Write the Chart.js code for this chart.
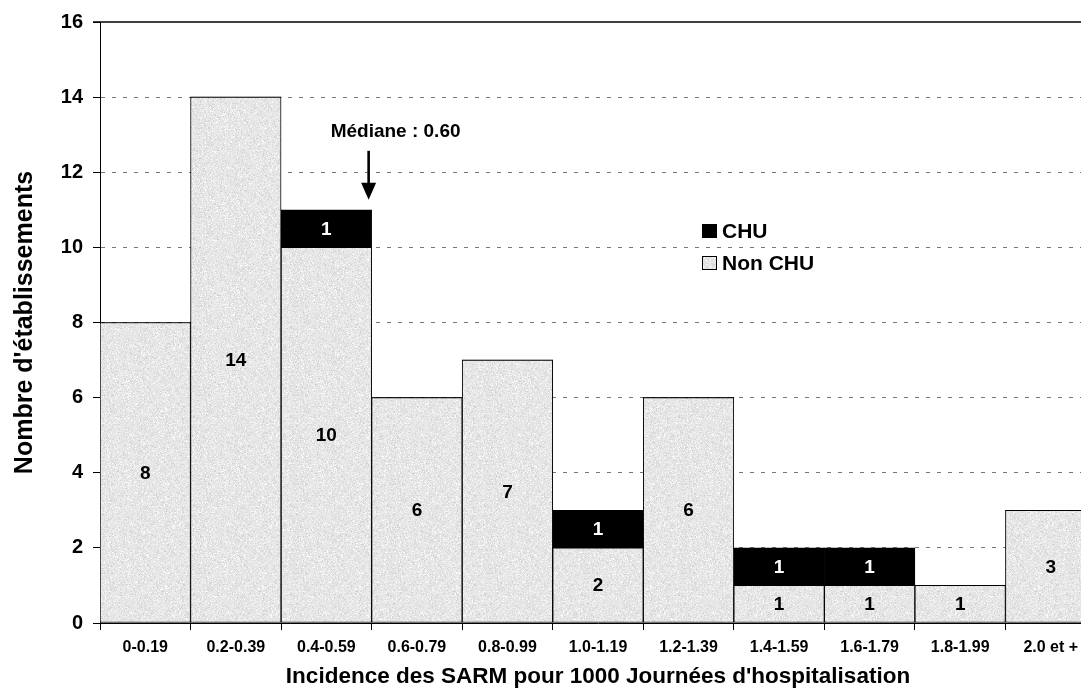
<!DOCTYPE html>
<html>
<head>
<meta charset="utf-8">
<script src="https://cdn.jsdelivr.net/npm/chart.js"></script>
<style>
  body { margin: 0; background: #fff; }
  #wrap { width: 1081px; height: 691px; overflow: hidden; }
  #inner { width: 1106px; height: 691px; }
</style>
</head>
<body>
<div id="wrap"><div id="inner"><canvas id="myChart"></canvas></div></div>
<script>
var categories = ["0-0.19", "0.2-0.39", "0.4-0.59", "0.6-0.79", "0.8-0.99", "1.0-1.19",
                  "1.2-1.39", "1.4-1.59", "1.6-1.79", "1.8-1.99", "2.0 et +"];
var nonChu = [8, 14, 10, 6, 7, 2, 6, 1, 1, 1, 3];
var chu = [0, 0, 1, 0, 0, 1, 0, 1, 1, 0, 0];
var yTicks = [0, 2, 4, 6, 8, 10, 12, 14, 16];
var medianLabel = "Médiane : 0.60";
var medianIndex = 2.5; // limite entre 0.4-0.59 et 0.6-0.79

var FONT = "'Liberation Sans', Arial, sans-serif";
var canvas = document.getElementById('myChart');
var ctx0 = canvas.getContext('2d');

// texture grise des barres "Non CHU" (bruit fixe, pas aléatoire)
function makeTexture() {
  var c = document.createElement('canvas');
  c.width = 97; c.height = 89;
  var g = c.getContext('2d');
  g.fillStyle = '#e6e6e6';
  g.fillRect(0, 0, 97, 89);
  var seed = 12345;
  function next() { seed = (seed * 16807) % 2147483647; return seed; }
  for (var i = 0; i < 6000; i++) {
    var x = next() % 97, y = next() % 89, v = 208 + next() % 46;
    g.fillStyle = 'rgb(' + v + ',' + v + ',' + v + ')';
    g.fillRect(x, y, 1, 1);
  }
  return ctx0.createPattern(c, 'repeat');
}
var texture = makeTexture();

// valeurs écrites dans les barres
var barLabels = {
  id: 'barLabels',
  afterDatasetsDraw: function(chart) {
    var ctx = chart.ctx;
    ctx.save();
    ctx.font = 'bold 19px ' + FONT;
    ctx.textAlign = 'center';
    ctx.textBaseline = 'middle';
    chart.data.datasets.forEach(function(ds, di) {
      var meta = chart.getDatasetMeta(di);
      meta.data.forEach(function(bar, i) {
        if (!ds.data[i]) return;
        ctx.fillStyle = di == 1 ? '#fff' : '#000';
        ctx.fillText(ds.data[i], bar.x, (bar.y + bar.base) / 2 + 1);
      });
    });
    ctx.restore();
  }
};

// ligne du haut, flèche de la médiane et légende
var extras = {
  id: 'extras',
  afterDraw: function(chart) {
    var ctx = chart.ctx;
    var xs = chart.scales.x, ys = chart.scales.y;
    var area = chart.chartArea;
    ctx.save();
    ctx.strokeStyle = '#000';
    ctx.lineWidth = 1.3;
    ctx.beginPath();
    ctx.moveTo(area.left - 7, ys.getPixelForValue(16));
    ctx.lineTo(area.right, ys.getPixelForValue(16));
    ctx.stroke();

    var mx = (xs.getPixelForValue(Math.floor(medianIndex)) + xs.getPixelForValue(Math.ceil(medianIndex))) / 2 - 3;
    var tip = ys.getPixelForValue(11.27);
    var top = ys.getPixelForValue(12.57);
    ctx.lineWidth = 2.6;
    ctx.beginPath();
    ctx.moveTo(mx, top);
    ctx.lineTo(mx, tip - 12);
    ctx.stroke();
    ctx.fillStyle = '#000';
    ctx.beginPath();
    ctx.moveTo(mx - 7.5, tip - 17);
    ctx.lineTo(mx + 7.5, tip - 17);
    ctx.lineTo(mx, tip);
    ctx.closePath();
    ctx.fill();

    ctx.font = 'bold 19px ' + FONT;
    ctx.textAlign = 'left';
    ctx.textBaseline = 'middle';
    ctx.fillText(medianLabel, mx - 38, ys.getPixelForValue(13.08));

    // légende
    var lx = 702, ly = [231, 263];
    [1, 0].forEach(function(di, k) {
      var ds = chart.data.datasets[di];
      ctx.fillStyle = ds.backgroundColor;
      ctx.fillRect(lx, ly[k] - 7, 15, 14);
      ctx.lineWidth = 1;
      ctx.strokeStyle = '#000';
      ctx.strokeRect(lx + 0.5, ly[k] - 6.5, 14, 13);
      ctx.fillStyle = '#000';
      ctx.font = 'bold 21px ' + FONT;
      ctx.fillText(ds.label, lx + 20, ly[k] + 1);
    });
    ctx.restore();
  }
};

new Chart(canvas, {
  type: 'bar',
  data: {
    labels: categories,
    datasets: [{
      label: 'Non CHU',
      data: nonChu,
      backgroundColor: texture,
      borderColor: '#000',
      borderWidth: 1,
      borderSkipped: false
    }, {
      label: 'CHU',
      data: chu,
      backgroundColor: '#000',
      borderColor: '#000',
      borderWidth: function(c) { return c.raw > 0 ? 1 : 0; },
      borderSkipped: false
    }]
  },
  options: {
    responsive: true,
    maintainAspectRatio: false,
    animation: false,
    categoryPercentage: 1,
    barPercentage: 1,
    layout: { padding: { top: 21, right: 10, left: 0, bottom: 0 } },
    plugins: {
      legend: { display: false },
      tooltip: { enabled: false }
    },
    scales: {
      x: {
        stacked: true,
        afterFit: function(axis) { axis.height = 68; },
        ticks: {
          color: '#000', autoSkip: false, maxRotation: 0, padding: 8,
          font: { family: FONT, size: 16, weight: 'bold' }
        },
        grid: { offset: true, drawOnChartArea: false, color: '#000', tickColor: '#000', tickLength: 7 },
        border: { color: '#000', width: 1 },
        title: {
          display: true,
          text: "Incidence des SARM pour 1000 Journées d'hospitalisation",
          color: '#000',
          font: { family: FONT, size: 22.5, weight: 'bold' },
          padding: { top: 0, bottom: 1 }
        }
      },
      y: {
        stacked: true,
        min: 0,
        max: 16,
        afterFit: function(axis) { axis.width = 100; },
        afterBuildTicks: function(axis) {
          axis.ticks = yTicks.map(function(v) { return { value: v }; });
        },
        ticks: {
          color: '#000', padding: 10,
          font: { family: FONT, size: 20, weight: 'bold' }
        },
        grid: {
          color: function(c) {
            var v = c.tick ? c.tick.value : null;
            return (v === 0 || v === 16) ? 'rgba(0,0,0,0)' : '#777';
          },
          tickColor: '#000',
          tickLength: 7
        },
        border: { color: '#000', width: 1, dash: [4, 7] },
        title: {
          display: true,
          text: "Nombre d'établissements",
          color: '#000',
          font: { family: FONT, size: 25, weight: 'bold' },
          padding: { top: 10, bottom: 0 }
        }
      }
    }
  },
  plugins: [barLabels, extras]
});
</script>
</body>
</html>
